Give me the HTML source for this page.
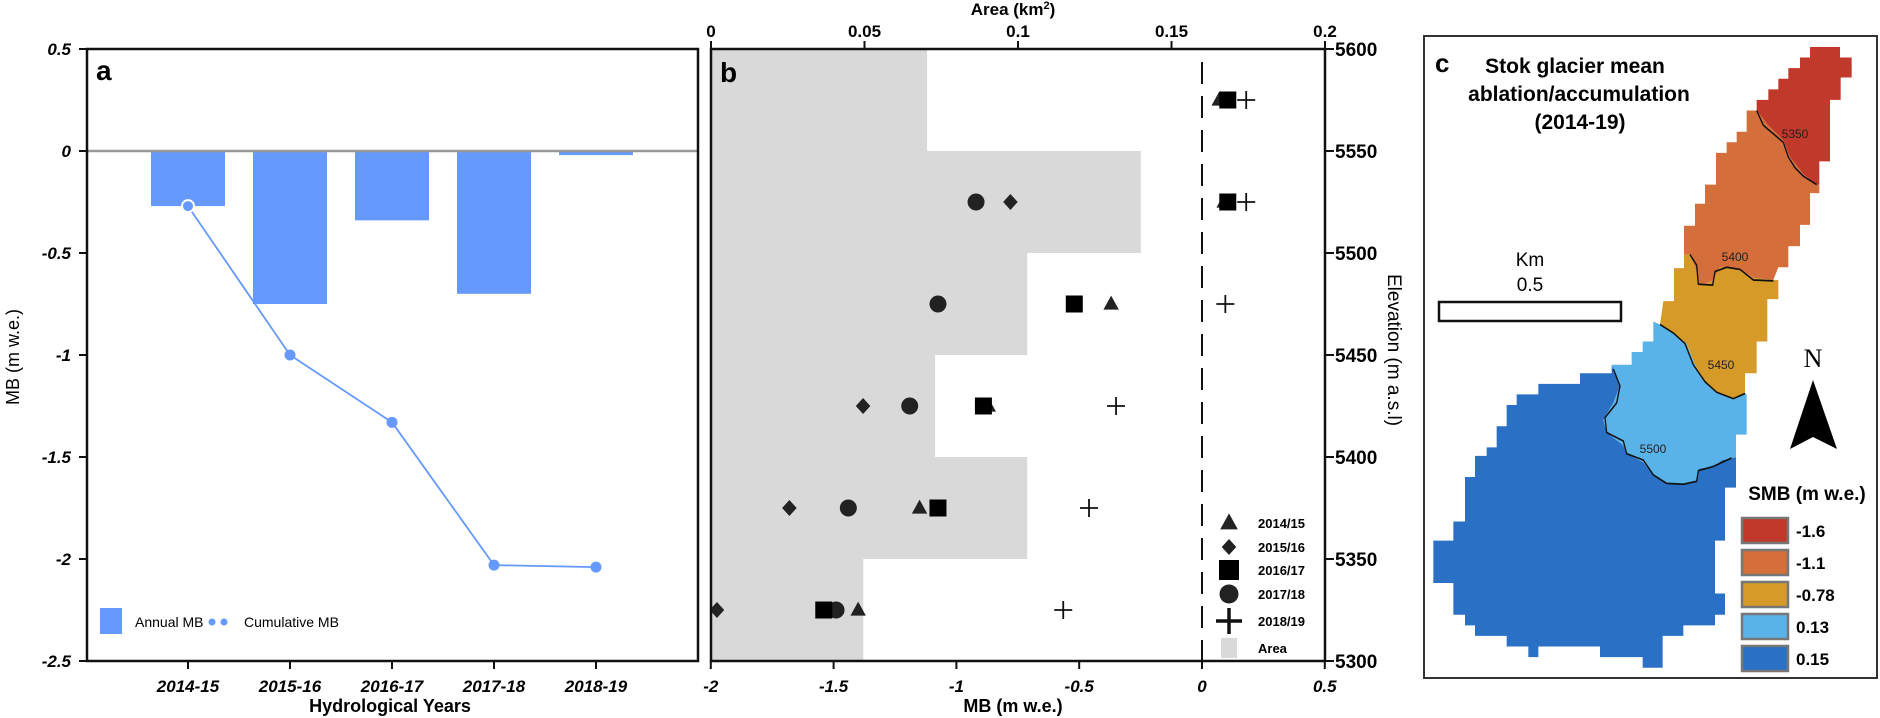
<!DOCTYPE html>
<html><head><meta charset="utf-8"><style>
html,body{margin:0;padding:0;background:#fff}
svg{display:block;font-family:"Liberation Sans",sans-serif}
</style></head><body>
<svg id="chart" width="1880" height="718" viewBox="0 0 1880 718" xmlns="http://www.w3.org/2000/svg">
<g id="pa"></g>
<g id="pb"></g>
<g id="pc">
  <rect x="1424" y="36" width="453" height="642" fill="#fff" stroke="#333" stroke-width="2"/>
  <g transform="translate(1420,30) scale(0.33333,0.42373)">
    <polygon fill="#2a71c6" points="575,790 600,840 580,880 550,920 560,950 610,980 620,1000 670,1020 700,1050 740,1070 790,1072 830,1065 835,1035 880,1030 905,1015 948,1008 948,1080 915,1080 915,1205 885,1205 885,1330 915,1330 915,1380 885,1380 885,1405 790,1405 790,1430 728,1430 728,1505 668,1505 668,1480 540,1480 540,1455 355,1455 355,1480 325,1480 325,1455 260,1455 260,1430 165,1430 165,1405 135,1405 135,1380 100,1380 100,1305 40,1305 40,1205 100,1205 100,1160 135,1160 135,1055 165,1055 165,1005 200,1005 200,985 230,985 230,935 260,935 260,885 290,885 290,860 355,860 355,835 480,835 480,810 575,810"/>
    <polygon fill="#5ab3e8" points="720,695 760,715 800,740 825,790 855,830 890,855 940,870 975,858 980,860 980,955 948,955 948,1008 905,1015 880,1030 835,1035 830,1065 790,1072 740,1070 700,1050 670,1020 620,1000 610,980 560,950 550,920 580,880 600,840 575,790 635,790 635,760 668,760 668,735 700,735 700,688"/>
    <polygon fill="#d69a29" points="810,530 825,560 840,605 880,590 900,560 960,565 1000,585 1060,590 1075,590 1075,635 1042,635 1042,735 1010,735 1010,810 975,810 975,858 940,870 890,855 855,830 825,790 800,740 760,715 720,695 730,640 762,640 762,562 792,562 792,530"/>
    <polygon fill="#d46f3b" points="1010,190 1045,225 1090,260 1110,300 1150,340 1190,365 1198,365 1198,385 1170,385 1170,460 1140,460 1140,510 1105,510 1105,560 1075,560 1060,590 1000,585 960,565 900,560 880,590 840,605 825,560 810,530 792,530 792,462 825,462 825,410 855,410 855,365 888,365 888,290 920,290 920,265 950,265 950,240 980,240 980,190"/>
    <polygon fill="#c0392a" points="1170,40 1260,40 1260,65 1295,65 1295,112 1262,112 1262,165 1230,165 1230,310 1198,310 1198,365 1190,365 1150,340 1110,300 1090,260 1045,225 1010,190 1010,165 1045,165 1045,140 1075,140 1075,115 1105,115 1105,90 1140,90 1140,65 1170,65"/>
    <g fill="none" stroke="#111" stroke-width="4">
      <polyline points="1010,190 1030,225 1060,245 1090,265 1105,300 1125,325 1150,345 1190,365"/>
      <polyline points="810,530 830,555 835,600 878,602 885,570 920,560 960,565 1000,590 1060,592"/>
      <polyline points="720,695 760,715 795,740 820,790 855,830 890,855 940,870 975,858"/>
      <polyline points="580,800 600,840 590,880 555,915 560,950 610,970 620,1000 670,1015 700,1050 740,1070 790,1072 830,1065 835,1040 880,1030 935,1010"/>
    </g>
  </g>
  <g font-size="12" text-anchor="middle" fill="#222">
    <text x="1795" y="138">5350</text>
    <text x="1735" y="261">5400</text>
    <text x="1721" y="369">5450</text>
    <text x="1653" y="453">5500</text>
  </g>
  <text x="1435" y="72" font-size="26" font-weight="bold">c</text>
  <g font-size="21" font-weight="bold" text-anchor="middle">
    <text x="1575" y="73">Stok glacier mean</text>
    <text x="1579" y="101">ablation/accumulation</text>
    <text x="1580" y="129">(2014-19)</text>
  </g>
  <text x="1530" y="266" font-size="19" text-anchor="middle">Km</text>
  <text x="1530" y="291" font-size="19" text-anchor="middle">0.5</text>
  <rect x="1439" y="302" width="182" height="19" fill="#fff" stroke="#111" stroke-width="2.5"/>
  <text x="1813" y="367" font-size="26" text-anchor="middle" font-family="Liberation Serif,serif">N</text>
  <polygon points="1813,380 1837,449 1813,437 1790,449" fill="#000"/>
  <text x="1807" y="500" font-size="19" font-weight="bold" text-anchor="middle">SMB (m w.e.)</text>
  <g id="smbleg"></g>
</g>
</svg>
<script>
const NS="http://www.w3.org/2000/svg";
function mk(parent,tag,attrs,text){const e=document.createElementNS(NS,tag);for(const k in attrs)e.setAttribute(k,attrs[k]);if(text!==undefined)e.textContent=text;parent.appendChild(e);return e;}

// ---------- Panel a data ----------
const years=["2014-15","2015-16","2016-17","2017-18","2018-19"];
const annualMB=[-0.27,-0.75,-0.34,-0.70,-0.02];
const cumulativeMB=[-0.27,-1.00,-1.33,-2.03,-2.04];
const aTicks=[0.5,0,-0.5,-1,-1.5,-2,-2.5];
const aTickLabels=["0.5","0","-0.5","-1","-1.5","-2","-2.5"];

// ---------- Panel b data ----------
const bandElev=[5575,5525,5475,5425,5375,5325];
const bandArea=[0.0704,0.140,0.103,0.073,0.103,0.0496];
const mb1415=[0.07,0.09,-0.37,-0.87,-1.15,-1.40];
const mb1516=[0.10,-0.78,-1.075,-1.38,-1.68,-1.975];
const mb1617=[0.105,0.105,-0.52,-0.89,-1.075,-1.54];
const mb1718=[0.10,-0.92,-1.075,-1.19,-1.44,-1.49];
const mb1819=[0.18,0.18,0.095,-0.35,-0.46,-0.565];
const mbTicks=[-2,-1.5,-1,-0.5,0,0.5];
const mbTickLabels=["-2","-1.5","-1","-0.5","0","0.5"];
const areaTicks=[0,0.05,0.1,0.15,0.2];
const areaTickLabels=["0","0.05","0.1","0.15","0.2"];
const elevTicks=[5600,5550,5500,5450,5400,5350,5300];
const smbLabels=["-1.6","-1.1","-0.78","0.13","0.15"];
const smbColors=["#c0392a","#d46f3b","#d69a29","#5ab3e8","#2a71c6"];

// ---------- Panel a ----------
const pa=document.getElementById('pa');
const ay=v=>151-v*204;
const ax=i=>188+i*102;
const BLUE="#6699fc";
aTicks.forEach((t,i)=>{
  let l=mk(pa,'line',{x1:79,x2:87,y1:ay(t),y2:ay(t),stroke:'#111','stroke-width':2});
  
  
  let tx=mk(pa,'text',{x:71,y:ay(t)+6,'font-size':17,'font-weight':'bold','font-style':'italic','text-anchor':'end'},aTickLabels[i]);
  
  
});
annualMB.forEach((v,i)=>{
  const r=mk(pa,'rect',{x:ax(i)-37,y:ay(0),width:74,height:Math.max(1,ay(v)-ay(0)),fill:BLUE});
  
  
});
let zl=mk(pa,'line',{x1:87,x2:698,y1:ay(0),y2:ay(0),stroke:'#999','stroke-width':2.5});


const pl=mk(pa,'polyline',{points:cumulativeMB.map((v,i)=>ax(i)+','+ay(v)).join(' '),fill:'none',stroke:BLUE,'stroke-width':1.8});


cumulativeMB.forEach((v,i)=>{
  const c=mk(pa,'circle',{cx:ax(i),cy:ay(v),r:i==0?6:5.5,fill:BLUE,stroke:i==0?'#fff':'none','stroke-width':2});
  
  
});
let fa=mk(pa,'rect',{x:87,y:49,width:611,height:612,fill:'none',stroke:'#111','stroke-width':2.5});


years.forEach((y,i)=>{
  let l=mk(pa,'line',{x1:ax(i),x2:ax(i),y1:661,y2:669,stroke:'#111','stroke-width':2});
  
  
  let t=mk(pa,'text',{x:ax(i),y:692,'font-size':17,'font-weight':'bold','font-style':'italic','text-anchor':'middle'},y);
  
  
});
let xt=mk(pa,'text',{x:390,y:712,'font-size':18,'font-weight':'bold','text-anchor':'middle'},'Hydrological Years');


let yt=mk(pa,'text',{x:0,y:0,'font-size':18,'text-anchor':'middle',transform:'translate(19,357) rotate(-90)'},'MB (m w.e.)');


let la=mk(pa,'text',{x:96,y:80,'font-size':28,'font-weight':'bold'},'a');


let lg1=mk(pa,'rect',{x:100,y:608,width:22,height:26,fill:BLUE});


let lg1t=mk(pa,'text',{x:135,y:627,'font-size':14},'Annual MB');


[212,224].forEach(x=>{let d=mk(pa,'circle',{cx:x,cy:622,r:3.5,fill:BLUE});

});
let lg2t=mk(pa,'text',{x:244,y:627,'font-size':14},'Cumulative MB');



// ---------- Panel b ----------
const pb=document.getElementById('pb');
const bx=v=>1202+v*245.6;
const barea=a=>711+a*3070;
const be=e=>49+(5600-e)*2.04;
bandElev.forEach((e,i)=>{
  const r=mk(pb,'rect',{x:711,y:be(e+25),width:barea(bandArea[i])-711,height:be(e-25)-be(e+25),fill:'#d9d9d9'});
  
  
});
let dl=mk(pb,'line',{x1:bx(0),x2:bx(0),y1:62,y2:661,stroke:'#111','stroke-width':2,'stroke-dasharray':'22,12'});


const C="#222";
function tri(g,x,y,s){return mk(g,'polygon',{points:`${x},${y-s*0.6} ${x+s*0.55},${y+s*0.4} ${x-s*0.55},${y+s*0.4}`,fill:C});}
function dia(g,x,y,s){return mk(g,'polygon',{points:`${x},${y-s/2} ${x+s/2.2},${y} ${x},${y+s/2} ${x-s/2.2},${y}`,fill:C});}
function sq(g,x,y,s){return mk(g,'rect',{x:x-s/2,y:y-s/2,width:s,height:s,fill:'#000'});}
function circ(g,x,y,s){return mk(g,'circle',{cx:x,cy:y,r:s/2,fill:C});}
function plus(g,x,y,s){return mk(g,'path',{d:`M${x-s/2},${y}H${x+s/2}M${x},${y-s/2}V${y+s/2}`,stroke:'#111','stroke-width':1.8,fill:'none'});}
const series=[[mb1516,dia,16,'2015-16'],[mb1718,circ,17,'2017-18'],[mb1415,tri,14,'2014-15'],[mb1617,sq,17,'2016-17'],[mb1819,plus,18,'2018-19']];
series.forEach(([arr,fn,s,nm])=>{
  arr.forEach((v,i)=>{
    const m=fn(pb,bx(v),be(bandElev[i]),s);
    
    
  });
});
let ab=mk(pb,'path',{d:'M711,49V661H1325V49Z',fill:'none',stroke:'#111','stroke-width':2.5});


mbTicks.forEach((t,i)=>{
  let l=mk(pb,'line',{x1:bx(t),x2:bx(t),y1:661,y2:669,stroke:'#111','stroke-width':2});
  
  
  let tx=mk(pb,'text',{x:bx(t),y:692,'font-size':17,'font-weight':'bold','font-style':'italic','text-anchor':'middle'},mbTickLabels[i]);
  
  
});
areaTicks.forEach((t,i)=>{
  let l=mk(pb,'line',{x1:barea(t),x2:barea(t),y1:41,y2:49,stroke:'#111','stroke-width':2});
  
  
  let tx=mk(pb,'text',{x:barea(t),y:37,'font-size':17,'font-weight':'bold','text-anchor':'middle'},areaTickLabels[i]);
  
  
});
elevTicks.forEach(t=>{
  let l=mk(pb,'line',{x1:1325,x2:1334,y1:be(t),y2:be(t),stroke:'#111','stroke-width':2});
  
  
  let tx=mk(pb,'text',{x:1335,y:be(t)+7,'font-size':19,'font-weight':'bold'},String(t));
  
  
});
let at=mk(pb,'text',{x:1013,y:15,'font-size':17,'font-weight':'bold','text-anchor':'middle'},'Area (km');


mk(at,'tspan',{'font-size':11,dy:-6},'2');
mk(at,'tspan',{dy:6},')');
let mt=mk(pb,'text',{x:1013,y:712,'font-size':18,'font-weight':'bold','text-anchor':'middle'},'MB (m w.e.)');


let et=mk(pb,'text',{x:0,y:0,'font-size':19,'text-anchor':'middle',transform:'translate(1388,350) rotate(90)'},'Elevation (m a.s.l)');


let lb=mk(pb,'text',{x:720,y:82,'font-size':28,'font-weight':'bold'},'b');


const legY=[523,547,570,594,621];
const legFns=[[tri,16],[dia,16],[sq,20],[circ,19],[plus,26]];
const legLbl=["2014/15","2015/16","2016/17","2017/18","2018/19"];
legLbl.forEach((t,i)=>{
  const m=legFns[i][0](pb,1229,legY[i],legFns[i][1]);
  
  
  if(i==4)m.setAttribute('stroke-width','3.5');
  const tx=mk(pb,'text',{x:1258,y:legY[i]+5,'font-size':13,'font-weight':'bold'},t);
  
  
});
let ar=mk(pb,'rect',{x:1221,y:638,width:16,height:20,fill:'#d9d9d9'});


let art=mk(pb,'text',{x:1258,y:653,'font-size':13,'font-weight':'bold'},'Area');



// ---------- Panel c legend ----------
const sl=document.getElementById('smbleg');
smbLabels.forEach((t,i)=>{
  const y=518+i*32;
  const r=mk(sl,'rect',{x:1742,y:y,width:46,height:25,fill:smbColors[i],stroke:'#777','stroke-width':2.5});
  
  
  const tx=mk(sl,'text',{x:1796,y:y+19,'font-size':17,'font-weight':'bold'},t);
  
  
});
</script>
</body></html>
